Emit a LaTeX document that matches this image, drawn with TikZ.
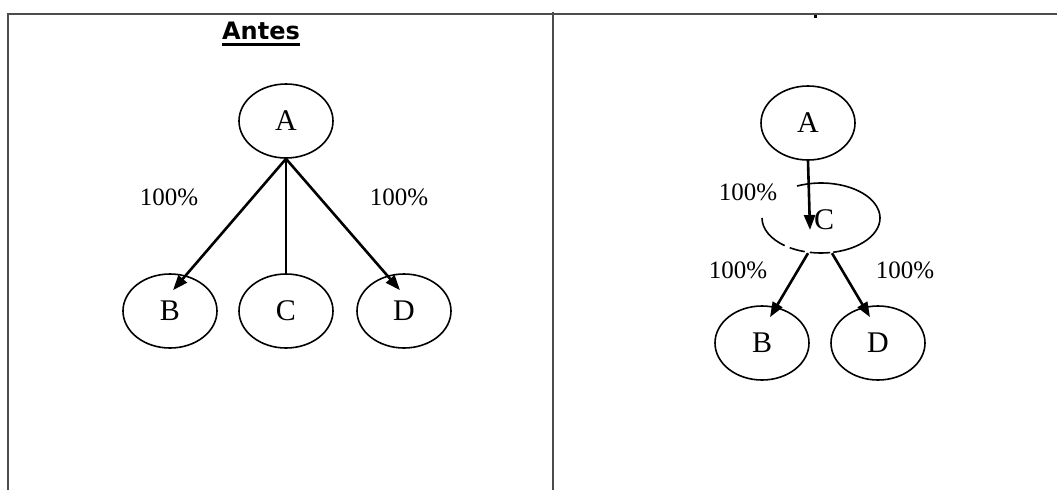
\documentclass[tikz,border=0pt]{standalone}
\usepackage{fontspec}
\setmainfont{Liberation Serif}
\newfontfamily\titlefont{DejaVu Sans}
\usetikzlibrary{shapes.geometric,arrows.meta}
\begin{document}
\begin{tikzpicture}[x=1pt,y=-1pt,
  frame/.style={draw=black!70,line width=2pt},
  bubble/.style={ellipse,draw,line width=1.6pt,minimum width=94pt,minimum height=74pt,inner sep=0pt,font=\fontsize{30}{30}\selectfont},
  pct/.style={font=\fontsize{25}{25}\selectfont,inner sep=1pt},
  link/.style={line width=2.6pt},
  arr/.style={link,-{Triangle[length=15pt,width=11pt]}},
  rim/.style={line width=1.6pt}]
\useasboundingbox (0,0) rectangle (1057,490);

% table frame
\draw[frame] (7,13.5) -- (1057,13.5);
\draw[frame] (7.5,13.5) -- (7.5,490);
\draw[frame] (553,12) -- (553,490);
\fill (814,15) rectangle (817,18);

% left: before
\node[inner sep=0pt,anchor=base,font=\titlefont\bfseries\fontsize{24}{24}\selectfont] (title) at (261,39) {Antes};
\draw[line width=3pt] ([yshift=-5pt]title.base west) -- ([yshift=-5pt]title.base east);

\node[bubble] (A) at (286,121) {A};
\node[bubble] (B) at (170,311) {B};
\node[bubble] (C) at (286,311) {C};
\node[bubble] (D) at (404,311) {D};

\draw[arr] (A.south) -- ([xshift=3pt,yshift=-17pt]B.north);
\draw[link] (A.south) -- (C.north);
\draw[arr] (A.south) -- ([xshift=-4pt,yshift=-17pt]D.north);

\node[pct] (l1) at (169,197) {100\%};
\node[pct] (l2) at (399,197) {100\%};

% right: after
\node[bubble] (A2) at (808,123) {A};
\node[ellipse,minimum width=118pt,minimum height=70pt,inner sep=0pt] (C2) at (821,218) {};
\node[inner sep=0pt,font=\fontsize{30}{30}\selectfont] (C2t) at (824,220) {C};
\node[bubble] (B2) at (762,343) {B};
\node[bubble] (D2) at (878,343) {D};

% broken outline of the merged node
\draw[rim] (C2.center) ++(-78:59pt and 35pt) arc[start angle=-78,end angle=114,x radius=59pt,y radius=35pt];
\draw[rim] ([xshift=-59pt]C2.center) arc[start angle=180,end angle=232,x radius=59pt,y radius=35pt];
\draw[rim] (C2.center) ++(238:59pt and 35pt) arc[start angle=238,end angle=254,x radius=59pt,y radius=35pt];
\draw[rim] (C2.center) ++(259:59pt and 35pt) arc[start angle=259,end angle=279,x radius=59pt,y radius=35pt];

\draw[arr] (A2.south) -- ([xshift=-11pt,yshift=-12pt]C2.center);
\draw[arr] ([xshift=-13pt]C2.south) -- ([xshift=8pt,yshift=-12pt]B2.north);
\draw[arr] ([xshift=11pt]C2.south) -- ([xshift=-8pt,yshift=-12pt]D2.north);

\node[pct] (r1) at (748,192) {100\%};
\node[pct] (r2) at (738,270) {100\%};
\node[pct] (r3) at (905,270) {100\%};
\end{tikzpicture}
\end{document}
